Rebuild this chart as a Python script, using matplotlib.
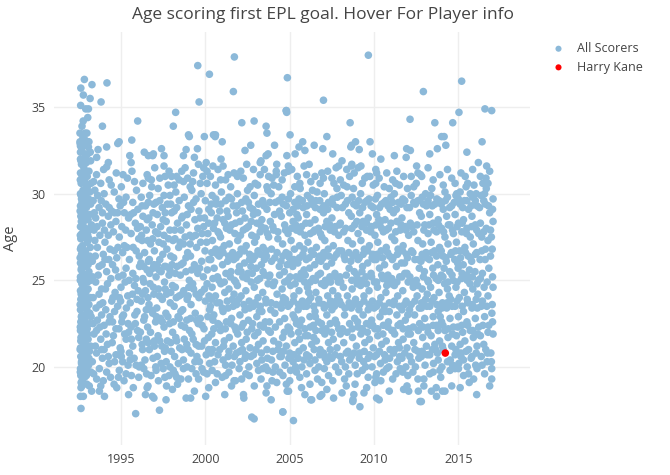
import matplotlib
matplotlib.use('Agg')
import matplotlib.pyplot as plt

plt.rcParams['font.family'] = ['Open Sans', 'DejaVu Sans']

# (date of first goal as decimal year, age at that goal)

# first weekends of 1992/93 - everyone is scoring their "first" goal
opening_1992 = [
    (1992.62,36.1),(1992.77,35.7),(1992.83,36.6),(1993.17,35.5),(1992.61,35.1),(1992.91,34.9),(1993.07,34.9),
    (1993.03,34.4),(1992.69,33.9),(1992.57,33.5),(1992.87,33.5),(1992.57,33.0),(1992.87,33.1),(1992.60,32.75),
    (1993.07,32.7),(1992.60,32.4),(1992.87,32.3),(1993.02,32.3),(1992.60,32.0),(1992.66,31.7),(1992.80,31.5),
    (1992.95,31.8),(1993.10,31.3),(1992.60,31.2),(1992.70,30.9),(1992.64,30.6),(1992.85,30.7),(1993.00,30.4),
    (1992.75,30.2),(1992.60,30.0),(1992.90,29.9),(1993.15,30.1),(1992.66,29.7),(1992.80,29.5),(1992.60,29.3),
    (1992.95,29.2),(1993.20,29.4),(1992.70,29.0),(1992.62,28.7),(1992.85,28.8),(1993.05,28.5),(1992.75,28.3),
    (1992.60,28.1),(1992.90,28.0),(1993.12,27.9),(1992.68,27.7),(1992.62,27.4),(1992.82,27.5),(1993.00,27.2),
    (1992.72,27.0),(1992.60,26.8),(1992.90,26.7),(1993.18,26.9),(1992.66,26.5),(1992.78,26.2),(1992.60,26.0),
    (1993.02,26.1),(1992.88,25.8),(1992.64,25.6),(1992.74,25.4),(1993.10,25.5),(1992.60,25.2),(1992.90,25.0),
    (1992.68,24.8),(1992.80,24.6),(1992.60,24.4),(1993.05,24.5),(1992.72,24.1),(1992.62,23.9),(1992.95,23.8),
    (1993.20,24.0),(1992.80,23.5),(1992.60,23.3),(1992.70,23.0),(1993.00,23.2),(1992.88,22.8),(1992.62,22.6),
    (1992.76,22.4),(1993.15,22.5),(1992.60,22.1),(1992.90,22.0),(1992.70,21.8),(1992.62,21.5),(1993.05,21.6),
    (1992.82,21.3),(1992.60,21.1),(1992.72,20.9),(1992.95,20.8),(1992.62,20.6),(1992.85,20.4),(1993.10,20.5),
    (1992.66,20.2),(1992.60,19.9),(1992.78,19.8),(1992.62,19.5),(1992.90,19.6),(1992.70,19.2),(1992.63,18.8),
    (1992.60,18.3),(1992.77,18.3),(1992.63,17.6),(1993.26,18.6),(1992.98,19.0),
    (1992.58,32.9),(1992.63,31.9),(1992.59,30.8),(1992.64,29.9),(1992.58,29.0),(1992.65,28.4),(1992.59,27.6),
    (1992.63,26.9),(1992.58,26.3),(1992.66,25.7),(1992.59,25.0),(1992.64,24.2),(1992.58,23.6),(1992.65,22.9),
    (1992.59,22.3),(1992.63,21.7),(1992.58,21.0),(1992.66,20.3),(1992.59,19.7),(1992.64,19.1),
    (1992.82,32.8),(1992.86,31.2),(1992.80,30.0),(1992.84,28.9),(1992.79,27.8),(1992.86,26.6),(1992.80,25.2),
    (1992.85,24.0),(1992.79,22.9),(1992.86,21.9),(1992.80,20.6),(1992.84,19.4),
    (1993.10,33.0),(1993.20,31.9),(1993.00,31.0),(1993.22,30.6),(1993.08,29.7),(1993.25,28.2),(1993.10,27.4),
    (1993.22,26.3),(1993.05,25.9),(1993.20,25.0),(1993.10,23.6),(1993.23,22.9),(1993.00,22.2),(1993.20,21.2),
    (1993.08,20.1),(1993.22,19.7),
    (1992.68,32.6),(1992.74,33.2),(1992.92,32.0),(1992.71,31.0),(1992.93,30.3),(1992.69,29.5),(1992.97,29.6),
    (1992.74,28.6),(1992.95,27.8),(1992.70,26.4),(1992.96,26.3),(1992.72,25.9),(1992.95,25.3),(1992.70,24.5),
    (1992.92,24.3),(1992.74,23.7),(1992.97,23.4),(1992.68,22.7),(1992.93,22.5),(1992.74,21.6),(1992.96,21.2),
    (1992.70,20.5),(1992.93,20.2),(1992.72,19.9),(1992.95,19.5),(1992.68,18.9),(1993.12,18.9),(1993.00,19.8),
    (1993.15,28.8),(1993.03,27.6),(1993.14,26.4),(1993.02,24.9),(1993.15,23.1),(1993.02,21.9),(1993.13,20.9),
    (1993.18,32.4),(1992.98,33.5),(1992.76,34.2),
]

scorers_1993_1996 = [
    (1993.28,36.3),(1994.17,36.4),(1993.82,35.3),(1995.99,34.2),(1993.90,33.9),(1995.64,33.1),(1994.81,32.9),
    (1994.89,33.0),(1993.64,32.55),(1994.15,32.7),(1993.56,32.1),(1995.60,31.8),(1994.25,31.8),(1994.15,31.55),
    (1993.55,31.1),(1993.80,30.6),(1993.45,30.2),(1994.00,30.0),(1994.60,30.1),(1994.88,29.7),(1995.12,31.1),
    (1995.65,31.3),(1995.80,30.7),(1995.92,30.2),(1994.30,30.8),(1993.35,29.6),(1993.70,29.2),(1994.10,29.4),
    (1994.45,29.0),(1994.95,29.3),(1995.30,29.8),(1995.70,29.5),(1996.00,29.1),(1993.50,28.6),(1993.90,28.3),
    (1994.25,28.7),(1994.70,28.4),(1995.05,28.1),(1995.45,28.6),(1995.85,28.3),(1993.40,27.9),(1993.75,27.6),
    (1994.05,27.2),(1994.55,27.8),(1994.90,27.5),(1995.20,27.0),(1995.60,27.7),(1996.05,27.4),(1993.60,26.9),
    (1993.95,26.5),(1994.35,26.8),(1994.75,26.3),(1995.10,26.6),(1995.50,26.2),(1995.90,26.7),(1993.30,26.1),
    (1993.70,25.8),(1994.15,25.5),(1994.50,25.9),(1994.85,25.2),(1995.30,25.7),(1995.70,25.4),(1996.10,25.8),
    (1993.50,24.9),(1993.85,24.5),(1994.20,24.8),(1994.65,24.3),(1995.00,24.6),(1995.40,24.1),(1995.80,24.7),
    (1993.35,24.0),(1993.75,23.6),(1994.10,23.3),(1994.45,23.8),(1994.80,23.5),(1995.15,23.0),(1995.55,23.7),
    (1995.95,23.2),(1993.60,22.7),(1994.00,22.4),(1994.35,22.9),(1994.70,22.2),(1995.05,22.6),(1995.45,22.0),
    (1995.85,22.5),(1993.40,21.9),(1993.80,21.6),(1994.20,21.3),(1994.55,21.8),(1994.95,21.1),(1995.30,21.6),
    (1995.70,21.2),(1996.05,21.7),(1993.55,20.8),(1993.90,20.5),(1994.30,20.2),(1994.70,20.7),(1995.10,20.3),
    (1995.50,20.8),(1995.54,20.4),(1995.90,20.1),(1993.30,20.3),(1993.72,19.9),(1994.15,19.7),(1994.59,19.0),
    (1994.85,19.4),(1993.56,19.3),(1993.72,18.6),(1995.73,18.8),(1996.05,19.4),(1995.87,17.3),(1994.90,19.8),
    (1995.30,19.6),(1993.95,19.2),
    (1993.45,27.3),(1993.65,25.3),(1993.85,23.0),(1994.00,21.0),(1994.40,25.1),(1994.60,26.7),(1994.90,24.0),
    (1995.20,28.9),(1995.35,26.9),(1995.60,22.3),(1995.75,28.9),(1995.95,23.9),(1994.25,27.6),(1993.55,22.1),
    (1994.05,26.2),(1994.80,28.9),(1995.00,20.9),(1995.25,24.9),(1993.90,28.9),(1994.50,22.6),
    (1993.38,30.7),(1993.62,29.9),(1993.97,31.4),(1994.42,30.5),(1994.72,31.2),(1995.02,30.4),(1995.38,30.9),
    (1995.52,32.2),(1993.42,28.9),(1993.83,29.6),(1994.30,29.2),(1994.62,28.9),(1995.15,29.5),(1995.58,28.8),
    (1995.98,28.0),(1993.58,28.1),(1994.02,27.9),(1994.40,28.2),(1994.82,26.9),(1995.28,27.9),(1995.72,26.9),
    (1996.08,26.4),(1993.48,26.4),(1993.88,25.9),(1994.28,26.2),(1994.68,25.6),(1995.12,25.3),(1995.48,25.0),
    (1995.88,25.1),(1993.32,25.2),(1993.70,24.2),(1994.08,24.5),(1994.52,24.0),(1994.98,23.8),(1995.32,23.4),
    (1995.68,24.2),(1996.02,24.4),(1993.52,23.4),(1993.92,23.7),(1994.30,22.6),(1994.62,23.2),(1995.08,22.9),
    (1995.42,22.5),(1995.82,23.0),(1993.35,22.5),(1993.75,22.3),(1994.12,21.9),(1994.48,21.4),(1994.88,22.2),
    (1995.22,21.9),(1995.62,21.6),(1995.98,22.1),(1993.48,21.2),(1993.85,21.0),(1994.25,20.6),(1994.62,20.3),
    (1995.02,20.6),(1995.42,20.1),(1995.78,20.5),(1993.38,19.6),(1993.80,18.9),(1994.38,19.4),(1994.75,18.8),
    (1995.18,19.2),(1995.62,19.5),(1996.08,20.0),(1994.02,18.3),(1995.45,18.4),
]

scorers_1996_2000 = [
    (1999.55,37.4),(2000.24,36.9),(1999.63,35.3),(1998.24,34.7),(1999.00,33.4),(1999.05,33.3),(1999.94,33.3),
    (2000.48,33.4),(1998.86,32.55),(1999.53,32.6),(1996.62,32.2),(1996.88,32.2),(1996.92,32.3),(1997.55,32.2),
    (1997.55,31.6),(1998.70,32.2),(1999.59,31.7),(1999.90,31.5),(2000.10,31.3),(1996.62,30.9),(1996.82,30.4),
    (1997.61,31.0),(1998.00,31.0),(1998.60,31.3),(1998.70,30.7),(1999.10,30.4),(1997.08,29.5),(1997.55,29.9),
    (1997.90,29.9),
    (1997.28,17.5),(1997.67,18.1),(1996.86,18.3),(1996.95,18.2),(1998.86,18.2),(1999.13,18.2),(2000.02,18.3),
    (1996.60,18.9),(1996.55,18.8),(1997.70,18.9),(1997.60,19.4),(1998.30,19.4),(1998.35,19.0),(1999.00,19.3),
    (1999.60,19.3),(2000.20,18.8),(1999.90,19.7),(1997.08,19.8),(1996.52,19.6),(1998.10,19.8),(1998.70,19.9),
    (1999.80,19.9),
    (1996.20,29.8),(1996.45,29.3),(1996.30,28.7),(1996.15,28.1),(1996.50,27.9),(1996.25,27.3),(1996.40,26.6),
    (1996.18,26.0),(1996.55,25.6),(1996.30,25.1),(1996.45,24.4),(1996.20,23.8),(1996.50,23.3),(1996.35,22.7),
    (1996.15,22.0),(1996.50,21.6),(1996.28,21.0),(1996.42,20.4),(1996.20,20.1),(1996.55,28.5),(1996.35,24.9),
    (1996.58,22.3),
    (1996.70,29.9),(1996.95,29.4),(1996.65,28.6),(1996.85,28.2),(1997.05,27.8),(1996.75,27.1),(1996.98,26.7),
    (1996.68,26.2),(1996.90,25.7),(1997.08,25.2),(1996.72,24.8),(1996.95,24.2),(1996.66,23.6),(1996.88,23.1),
    (1997.05,22.6),(1996.75,22.0),(1996.98,21.5),(1996.68,21.0),(1996.90,20.5),(1997.06,20.0),(1996.80,30.8),
    (1996.70,25.4),
    (1997.20,30.3),(1997.45,29.2),(1997.15,28.8),(1997.35,28.1),(1997.55,27.6),(1997.25,27.2),(1997.48,26.5),
    (1997.15,25.9),(1997.38,25.5),(1997.58,24.9),(1997.22,24.5),(1997.45,23.9),(1997.12,23.4),(1997.35,22.8),
    (1997.55,22.3),(1997.20,21.8),(1997.42,21.2),(1997.15,20.6),(1997.38,20.2),(1997.58,20.9),(1997.30,26.2),
    (1997.50,28.5),
    (1997.75,29.4),(1998.00,28.9),(1997.68,28.4),(1997.90,27.9),(1998.08,27.3),(1997.72,26.8),(1997.95,26.4),
    (1997.65,25.8),(1997.85,25.3),(1998.05,24.7),(1997.70,24.2),(1997.92,23.7),(1997.66,23.1),(1997.88,22.5),
    (1998.06,22.0),(1997.75,21.5),(1997.98,20.9),(1997.68,20.3),(1997.90,20.0),(1998.02,25.9),(1997.80,30.5),
    (1998.25,30.1),(1998.45,29.6),(1998.15,29.0),(1998.35,28.3),(1998.55,27.9),(1998.20,27.4),(1998.42,26.9),
    (1998.12,26.3),(1998.32,25.8),(1998.52,25.3),(1998.22,24.6),(1998.45,24.1),(1998.15,23.5),(1998.38,22.9),
    (1998.58,22.4),(1998.25,21.7),(1998.48,21.1),(1998.18,20.6),(1998.40,20.2),(1998.30,31.0),(1998.55,23.2),
    (1998.75,29.8),(1999.00,29.3),(1998.65,28.7),(1998.88,28.2),(1999.08,27.6),(1998.70,27.1),(1998.95,26.6),
    (1998.68,26.0),(1998.85,25.5),(1999.05,25.0),(1998.72,24.4),(1998.92,23.9),(1998.66,23.3),(1998.90,22.7),
    (1999.06,22.1),(1998.75,21.6),(1998.98,21.0),(1998.70,20.4),(1998.92,20.0),(1999.02,24.6),(1998.80,31.5),
    (1999.20,30.2),(1999.45,29.7),(1999.15,29.1),(1999.38,28.5),(1999.55,28.0),(1999.22,27.5),(1999.48,26.9),
    (1999.12,26.4),(1999.35,25.9),(1999.55,25.4),(1999.25,24.8),(1999.45,24.2),(1999.15,23.6),(1999.40,23.1),
    (1999.58,22.5),(1999.20,21.9),(1999.45,21.3),(1999.15,20.8),(1999.38,20.3),(1999.30,31.2),(1999.50,20.6),
    (1999.75,30.0),(2000.00,29.6),(2000.20,29.1),(1999.68,28.6),(1999.90,28.1),(2000.15,27.7),(1999.72,27.2),
    (1999.98,26.7),(2000.22,26.2),(1999.66,25.7),(1999.88,25.2),(2000.10,24.8),(1999.75,24.3),(2000.00,23.8),
    (2000.25,23.3),(1999.70,22.8),(1999.92,22.2),(2000.18,21.7),(1999.78,21.2),(2000.05,20.7),(2000.25,20.2),
    (1999.65,20.3),(2000.10,30.6),(1999.85,31.0),
    (1996.30,30.6),(1996.55,31.1),(1997.00,31.5),(1997.30,30.9),(1997.85,31.3),(1998.15,30.5),(1998.45,30.8),
    (1998.95,30.9),(1999.25,30.7),(1999.70,30.6),(2000.05,31.8),(1996.38,32.4),(1997.40,32.6),(1998.10,33.9),
    (1999.35,32.1),(1996.25,29.3),(1996.62,29.5),(1996.90,28.9),(1997.30,29.6),(1997.62,28.9),(1997.95,29.4),
    (1998.30,29.2),(1998.60,28.6),(1998.92,28.8),(1999.30,29.5),(1999.62,29.0),(1999.95,28.6),(2000.20,28.3),
    (1996.22,27.6),(1996.58,27.3),(1996.88,27.4),(1997.20,27.7),(1997.50,27.1),(1997.82,27.4),(1998.18,27.9),
    (1998.50,27.2),(1998.80,27.5),(1999.10,27.1),(1999.42,27.6),(1999.80,27.7),(2000.08,27.2),(1996.35,25.8),
    (1996.62,26.1),(1996.95,25.9),(1997.25,25.6),(1997.58,25.8),(1997.90,25.6),(1998.22,25.4),(1998.55,25.9),
    (1998.85,26.3),(1999.18,25.6),(1999.48,25.7),(1999.78,26.1),(2000.12,25.6),(1996.28,24.2),(1996.60,24.0),
    (1996.92,24.6),(1997.28,24.1),(1997.62,24.5),(1997.95,24.3),(1998.28,24.0),(1998.62,24.2),(1998.98,24.1),
    (1999.30,24.5),(1999.62,24.0),(1999.95,24.5),(2000.22,24.1),(1996.40,22.9),(1996.75,23.3),(1997.10,22.9),
    (1997.45,22.6),(1997.78,22.9),(1998.10,22.6),(1998.45,22.8),(1998.78,22.3),(1999.12,22.8),(1999.48,22.7),
    (1999.80,22.4),(2000.15,22.9),(1996.25,21.3),(1996.62,21.4),(1996.98,21.2),(1997.30,21.5),(1997.62,21.1),
    (1997.95,21.4),(1998.30,21.5),(1998.62,21.0),(1998.90,21.3),(1999.28,21.6),(1999.60,21.2),(1999.95,21.5),
    (2000.20,21.0),(1996.35,19.9),(1996.78,19.5),(1997.22,19.2),(1997.50,19.9),(1997.85,19.5),(1998.20,19.6),
    (1998.55,19.3),(1999.20,19.9),(1999.45,19.6),(2000.10,19.6),(1996.45,18.4),(1998.05,18.7),(1999.35,18.6),
]

scorers_2000_2004 = [
    (2001.72,37.9),(2001.66,35.9),(2004.79,34.8),(2002.16,34.1),(2002.89,34.2),(2000.58,33.3),(2000.60,33.4),
    (2003.60,33.9),(2003.65,33.5),(2002.69,32.8),(2004.10,32.8),(2000.93,32.0),(2003.72,32.3),(2003.60,32.2),
    (2003.25,31.8),(2003.30,31.9),(2004.23,31.7),(2003.75,31.0),(2004.20,31.1),(2001.70,31.2),(2002.10,31.3),
    (2000.30,31.0),(2000.60,30.5),(2000.90,30.8),(2001.20,30.8),(2002.25,30.9),(2002.65,30.4),(2002.95,30.6),
    (2003.25,31.1),(2003.65,30.4),(2004.05,30.5),
    (2002.75,17.1),(2002.89,17.0),(2004.59,17.4),(2002.26,18.4),(2002.28,18.2),(2001.70,19.2),(2001.78,19.2),
    (2002.60,19.5),(2000.60,19.1),(2001.00,19.4),(2003.15,19.8),(2003.70,19.8),(2003.65,18.9),(2003.60,18.5),
    (2004.23,19.1),(2004.80,19.0),(2000.40,19.8),(2001.40,19.7),(2002.00,19.9),(2002.40,19.6),(2003.40,19.9),
    (2004.00,19.7),
    (2000.40,29.9),(2000.65,29.4),(2000.35,28.9),(2000.55,28.3),(2000.75,27.8),(2000.42,27.3),(2000.62,26.8),
    (2000.32,26.2),(2000.52,25.7),(2000.72,25.2),(2000.40,24.6),(2000.60,24.1),(2000.30,23.5),(2000.50,23.0),
    (2000.75,22.5),(2000.38,21.9),(2000.60,21.4),(2000.34,20.8),(2000.55,20.3),(2000.70,28.6),(2000.45,22.7),
    (2000.95,30.1),(2001.20,29.6),(2000.85,29.0),(2001.05,28.5),(2001.25,28.0),(2000.90,27.5),(2001.12,27.0),
    (2000.82,26.4),(2001.02,25.9),(2001.22,25.4),(2000.92,24.8),(2001.15,24.3),(2000.85,23.7),(2001.05,23.2),
    (2001.25,22.6),(2000.90,22.1),(2001.12,21.5),(2000.85,21.0),(2001.05,20.4),(2001.20,20.1),(2000.98,26.8),
    (2001.40,29.8),(2001.65,29.3),(2001.35,28.7),(2001.55,28.2),(2001.75,27.7),(2001.42,27.1),(2001.62,26.6),
    (2001.32,26.1),(2001.52,25.5),(2001.72,25.0),(2001.40,24.5),(2001.60,23.9),(2001.35,23.4),(2001.55,22.8),
    (2001.75,22.3),(2001.42,21.7),(2001.65,21.2),(2001.35,20.6),(2001.58,20.1),(2001.70,24.2),(2001.50,30.4),
    (2001.90,30.0),(2002.15,29.5),(2001.85,28.9),(2002.05,28.4),(2002.25,27.9),(2001.92,27.3),(2002.12,26.8),
    (2001.82,26.3),(2002.02,25.8),(2002.22,25.2),(2001.90,24.7),(2002.12,24.1),(2001.85,23.6),(2002.05,23.0),
    (2002.25,22.5),(2001.92,21.9),(2002.15,21.4),(2001.85,20.8),(2002.05,20.3),(2002.20,21.0),(2001.95,25.5),
    (2002.40,29.7),(2002.65,29.2),(2002.35,28.6),(2002.55,28.1),(2002.75,27.6),(2002.42,27.0),(2002.62,26.5),
    (2002.32,26.0),(2002.52,25.4),(2002.72,24.9),(2002.40,24.4),(2002.60,23.8),(2002.35,23.3),(2002.55,22.7),
    (2002.75,22.2),(2002.42,21.6),(2002.65,21.1),(2002.35,20.5),(2002.58,20.0),(2002.70,25.8),(2002.50,30.2),
    (2002.90,29.9),(2003.15,29.4),(2002.85,28.8),(2003.05,28.3),(2003.25,27.8),(2002.92,27.2),(2003.12,26.7),
    (2002.82,26.2),(2003.02,25.7),(2003.22,25.1),(2002.90,24.6),(2003.12,24.0),(2002.85,23.5),(2003.05,22.9),
    (2003.25,22.4),(2002.92,21.8),(2003.15,21.3),(2002.85,20.7),(2003.05,20.2),(2003.20,23.2),
    (2003.40,29.6),(2003.65,29.1),(2003.35,28.5),(2003.55,28.0),(2003.75,27.5),(2003.42,26.9),(2003.62,26.4),
    (2003.32,25.9),(2003.52,25.3),(2003.72,24.8),(2003.40,24.3),(2003.60,23.7),(2003.35,23.2),(2003.55,22.6),
    (2003.75,22.1),(2003.42,21.5),(2003.65,21.0),(2003.35,20.4),(2003.58,20.0),(2003.70,30.2),(2003.50,26.2),
    (2003.90,30.0),(2004.15,29.5),(2004.40,29.0),(2003.85,28.4),(2004.05,27.9),(2004.30,27.4),(2003.92,26.8),
    (2004.12,26.3),(2004.38,25.8),(2003.82,25.3),(2004.02,24.7),(2004.25,24.2),(2003.90,23.7),(2004.12,23.1),
    (2004.40,22.6),(2003.85,22.0),(2004.05,21.5),(2004.30,21.0),(2003.92,20.4),(2004.15,20.0),(2004.42,20.6),
    (2004.20,31.3),
    (2000.45,31.6),(2000.75,31.4),(2001.05,31.6),(2001.35,31.1),(2001.90,31.0),(2002.45,31.7),(2002.85,31.4),
    (2003.10,30.5),(2003.50,31.4),(2003.95,30.9),(2004.35,30.4),(2001.00,33.0),(2002.35,32.5),(2000.35,29.4),
    (2000.62,29.7),(2000.92,29.4),(2001.28,29.0),(2001.55,29.7),(2001.88,29.3),(2002.20,29.0),(2002.55,29.5),
    (2002.82,29.1),(2003.10,28.9),(2003.48,29.3),(2003.82,29.5),(2004.10,28.8),(2004.35,29.6),(2000.48,28.0),
    (2000.82,27.7),(2001.15,28.3),(2001.45,27.9),(2001.78,28.3),(2002.08,27.6),(2002.42,28.0),(2002.72,28.4),
    (2003.02,27.5),(2003.32,28.1),(2003.68,27.7),(2004.00,28.1),(2004.30,27.8),(2000.38,26.6),(2000.72,26.5),
    (2001.05,26.6),(2001.38,26.4),(2001.68,26.2),(2002.00,26.5),(2002.30,26.7),(2002.62,26.2),(2002.95,26.4),
    (2003.28,26.5),(2003.60,26.7),(2003.92,26.1),(2004.25,26.6),(2000.45,25.1),(2000.80,25.0),(2001.12,24.9),
    (2001.48,25.2),(2001.80,24.9),(2002.12,25.5),(2002.45,25.1),(2002.78,25.4),(2003.08,25.0),(2003.42,25.5),
    (2003.78,25.2),(2004.10,24.9),(2004.40,25.3),(2000.35,23.9),(2000.68,23.7),(2001.00,23.4),(2001.30,23.8),
    (2001.65,23.5),(2001.98,23.9),(2002.28,23.6),(2002.62,23.4),(2002.95,23.7),(2003.25,23.5),(2003.58,23.9),
    (2003.88,23.3),(2004.20,23.6),(2000.50,22.2),(2000.85,22.4),(2001.18,22.2),(2001.50,22.5),(2001.82,22.1),
    (2002.15,22.3),(2002.48,22.0),(2002.80,22.5),(2003.12,22.0),(2003.45,22.3),(2003.80,22.6),(2004.15,22.3),
    (2000.42,21.0),(2000.75,20.7),(2001.08,21.2),(2001.40,20.9),(2001.72,20.6),(2002.05,20.9),(2002.38,20.7),
    (2002.70,20.6),(2003.00,21.0),(2003.32,20.8),(2003.68,20.5),(2004.00,20.9),(2004.35,21.3),(2000.70,19.6),
    (2001.20,19.5),(2001.55,18.9),(2002.15,19.3),(2002.90,18.9),(2003.30,19.3),(2003.95,19.2),(2004.40,19.7),
    (2001.15,18.4),(2003.90,18.1),
]

scorers_2004_2008 = [
    (2004.86,36.7),(2007.00,35.4),(2004.80,34.8),(2004.82,34.7),(2008.58,34.1),(2005.02,33.4),(2005.77,33.0),
    (2005.90,32.5),(2006.96,32.6),(2008.62,32.7),(2004.83,32.2),(2005.32,32.3),(2007.55,32.3),(2008.10,31.9),
    (2007.90,31.6),(2007.75,31.5),(2008.68,31.7),(2004.92,31.6),(2004.92,31.3),(2006.00,31.1),(2006.25,30.7),
    (2006.90,31.2),(2006.80,30.6),(2007.00,30.9),(2008.55,31.0),(2008.20,30.5),(2007.80,30.3),(2005.30,30.4),
    (2004.55,30.8),(2005.60,30.6),
    (2005.22,16.9),(2004.59,17.4),(2006.25,18.1),(2006.30,18.1),(2006.80,18.3),(2006.90,18.4),(2007.60,18.2),
    (2008.10,18.5),(2008.74,18.0),(2004.85,18.6),(2004.93,18.6),(2005.70,18.8),(2005.00,19.2),(2006.90,19.1),
    (2006.20,19.0),(2007.30,19.5),(2008.50,19.6),(2005.40,19.7),(2006.50,19.8),(2007.90,19.7),(2004.60,19.5),
    (2004.55,29.8),(2004.80,29.3),(2004.50,28.7),(2004.70,28.2),(2004.90,27.7),(2004.58,27.1),(2004.78,26.6),
    (2004.48,26.1),(2004.68,25.5),(2004.88,25.0),(2004.55,24.5),(2004.75,23.9),(2004.50,23.4),(2004.70,22.8),
    (2004.90,22.3),(2004.58,21.7),(2004.80,21.2),(2004.50,20.6),(2004.72,20.1),(2004.85,25.9),(2004.62,24.0),
    (2005.05,30.0),(2005.30,29.5),(2005.00,28.9),(2005.20,28.4),(2005.40,27.9),(2005.08,27.3),(2005.28,26.8),
    (2004.98,26.3),(2005.18,25.8),(2005.38,25.2),(2005.05,24.7),(2005.25,24.1),(2005.00,23.6),(2005.20,23.0),
    (2005.40,22.5),(2005.08,21.9),(2005.30,21.4),(2005.00,20.8),(2005.20,20.3),(2005.35,20.0),(2005.12,26.0),
    (2005.42,28.8),
    (2005.55,29.7),(2005.80,29.2),(2005.50,28.6),(2005.70,28.1),(2005.90,27.6),(2005.58,27.0),(2005.78,26.5),
    (2005.48,26.0),(2005.68,25.4),(2005.88,24.9),(2005.55,24.4),(2005.75,23.8),(2005.50,23.3),(2005.70,22.7),
    (2005.90,22.2),(2005.58,21.6),(2005.80,21.1),(2005.50,20.5),(2005.72,20.0),(2005.62,30.3),(2005.85,25.6),
    (2005.52,22.0),
    (2006.05,29.9),(2006.30,29.4),(2006.00,28.8),(2006.20,28.3),(2006.40,27.8),(2006.08,27.2),(2006.28,26.7),
    (2005.98,26.2),(2006.18,25.7),(2006.38,25.1),(2006.05,24.6),(2006.25,24.0),(2006.00,23.5),(2006.20,22.9),
    (2006.40,22.4),(2006.08,21.8),(2006.30,21.3),(2006.00,20.7),(2006.20,20.2),(2006.35,30.2),(2006.12,24.3),
    (2006.42,21.7),
    (2006.55,29.6),(2006.80,29.1),(2006.50,28.5),(2006.70,28.0),(2006.90,27.5),(2006.58,26.9),(2006.78,26.4),
    (2006.48,25.9),(2006.68,25.3),(2006.88,24.8),(2006.55,24.3),(2006.75,23.7),(2006.50,23.2),(2006.70,22.6),
    (2006.90,22.1),(2006.58,21.5),(2006.80,21.0),(2006.50,20.4),(2006.72,20.0),(2006.62,30.1),(2006.85,26.1),
    (2006.52,22.9),
    (2007.05,30.0),(2007.30,29.5),(2007.00,28.9),(2007.20,28.4),(2007.40,27.9),(2007.08,27.3),(2007.28,26.8),
    (2006.98,26.3),(2007.18,25.8),(2007.38,25.2),(2007.05,24.7),(2007.25,24.1),(2007.00,23.6),(2007.20,23.0),
    (2007.40,22.5),(2007.08,21.9),(2007.30,21.4),(2007.00,20.8),(2007.20,20.3),(2007.35,20.6),(2007.12,25.0),
    (2007.42,23.8),
    (2007.55,29.7),(2007.80,29.2),(2007.50,28.6),(2007.70,28.1),(2007.90,27.6),(2007.58,27.0),(2007.78,26.5),
    (2007.48,26.0),(2007.68,25.4),(2007.88,24.9),(2007.55,24.4),(2007.75,23.8),(2007.50,23.3),(2007.70,22.7),
    (2007.90,22.2),(2007.58,21.6),(2007.80,21.1),(2007.50,20.5),(2007.72,20.0),(2007.62,30.6),(2007.85,24.1),
    (2008.05,29.9),(2008.30,29.4),(2008.50,28.9),(2008.00,28.3),(2008.20,27.8),(2008.45,27.3),(2008.08,26.7),
    (2008.28,26.2),(2008.52,25.7),(2007.98,25.2),(2008.18,24.6),(2008.42,24.1),(2008.05,23.6),(2008.25,23.0),
    (2008.55,22.5),(2008.00,21.9),(2008.20,21.4),(2008.45,20.9),(2008.08,20.3),(2008.30,20.0),(2008.55,20.4),
    (2008.40,30.4),
    (2004.68,31.2),(2005.12,31.4),(2005.45,31.0),(2005.85,31.6),(2006.15,31.7),(2006.50,31.0),(2007.25,31.3),
    (2007.50,30.9),(2008.00,30.8),(2008.38,31.4),(2005.55,32.7),(2006.45,32.8),(2007.20,33.3),(2004.62,29.4),
    (2004.92,29.7),(2005.20,29.1),(2005.48,29.3),(2005.75,29.6),(2006.02,29.3),(2006.25,29.7),(2006.52,29.2),
    (2006.78,29.6),(2007.02,29.3),(2007.25,29.1),(2007.55,29.4),(2007.82,29.8),(2008.12,29.2),(2008.42,29.6),
    (2004.75,27.9),(2005.10,28.0),(2005.35,28.2),(2005.62,27.8),(2005.95,28.3),(2006.22,27.7),(2006.48,27.9),
    (2006.82,27.7),(2007.10,28.1),(2007.38,28.2),(2007.65,27.8),(2007.95,28.2),(2008.32,28.0),(2004.60,26.4),
    (2004.95,26.5),(2005.25,26.2),(2005.58,26.3),(2005.85,26.8),(2006.15,26.3),(2006.42,26.5),(2006.72,26.2),
    (2007.02,26.6),(2007.32,26.4),(2007.62,26.3),(2007.92,26.7),(2008.22,26.4),(2008.50,26.6),(2004.70,24.9),
    (2005.02,25.2),(2005.32,24.8),(2005.62,25.1),(2005.92,25.3),(2006.22,24.9),(2006.52,25.0),(2006.82,25.4),
    (2007.12,24.8),(2007.42,24.9),(2007.72,25.2),(2008.02,24.9),(2008.35,25.3),(2004.58,23.7),(2004.90,23.5),
    (2005.22,23.8),(2005.52,23.6),(2005.82,23.5),(2006.12,23.8),(2006.42,23.5),(2006.72,23.9),(2007.05,23.4),
    (2007.35,23.6),(2007.65,23.5),(2007.95,23.8),(2008.28,23.4),(2008.52,23.7),(2004.68,22.0),(2005.00,22.2),
    (2005.30,22.8),(2005.60,22.4),(2005.92,21.8),(2006.22,22.3),(2006.55,22.1),(2006.88,22.5),(2007.15,22.2),
    (2007.48,22.0),(2007.78,22.5),(2008.12,22.2),(2008.40,22.0),(2004.62,20.9),(2004.95,20.5),(2005.25,20.7),
    (2005.55,20.9),(2005.85,20.4),(2006.15,20.6),(2006.45,21.0),(2006.78,20.7),(2007.10,20.5),(2007.40,21.0),
    (2007.68,20.7),(2008.00,20.6),(2008.35,20.8),(2005.05,19.8),(2005.60,19.4),(2006.00,19.6),(2006.65,19.3),
    (2007.05,19.9),(2007.55,19.2),(2008.25,19.3),(2005.90,18.4),(2007.20,18.7),(2008.35,18.9),
]

scorers_2008_2012 = [
    (2009.66,38.0),(2012.92,35.9),(2012.13,34.3),(2008.90,33.0),(2008.67,32.8),(2009.76,33.0),(2009.12,32.55),
    (2011.93,32.6),(2012.15,32.5),(2011.90,32.1),(2012.52,31.6),(2009.22,31.6),(2010.10,31.4),(2010.15,31.2),
    (2009.60,31.0),(2009.75,31.0),(2012.20,31.0),(2012.75,31.1),(2008.65,31.6),(2010.10,30.6),(2009.30,30.6),
    (2009.95,30.5),(2010.60,30.4),(2011.50,30.5),(2011.98,30.3),(2012.50,30.6),(2010.90,30.3),
    (2009.16,17.7),(2012.72,18.0),(2011.75,18.7),(2012.05,18.6),(2012.62,18.6),(2010.15,18.2),(2010.30,18.1),
    (2008.75,18.1),(2008.80,18.4),(2008.87,19.0),(2009.56,18.8),(2010.05,19.1),(2010.10,19.4),(2010.15,19.6),
    (2011.10,19.3),(2010.55,19.7),(2010.75,19.9),(2011.70,19.7),(2012.00,19.5),(2012.60,19.3),(2009.30,19.8),
    (2008.70,29.8),(2008.95,29.3),(2008.65,28.7),(2008.85,28.2),(2009.05,27.7),(2008.72,27.1),(2008.92,26.6),
    (2008.62,26.1),(2008.82,25.5),(2009.02,25.0),(2008.70,24.5),(2008.90,23.9),(2008.65,23.4),(2008.85,22.8),
    (2009.05,22.3),(2008.72,21.7),(2008.95,21.2),(2008.65,20.6),(2008.88,20.1),(2009.00,24.8),(2008.78,30.3),
    (2009.20,30.0),(2009.45,29.5),(2009.15,28.9),(2009.35,28.4),(2009.55,27.9),(2009.22,27.3),(2009.42,26.8),
    (2009.12,26.3),(2009.32,25.8),(2009.52,25.2),(2009.20,24.7),(2009.40,24.1),(2009.15,23.6),(2009.35,23.0),
    (2009.55,22.5),(2009.22,21.9),(2009.45,21.4),(2009.15,20.8),(2009.38,20.3),(2009.50,20.0),(2009.28,25.5),
    (2009.70,29.7),(2009.95,29.2),(2009.65,28.6),(2009.85,28.1),(2010.05,27.6),(2009.72,27.0),(2009.92,26.5),
    (2009.62,26.0),(2009.82,25.4),(2010.02,24.9),(2009.70,24.4),(2009.90,23.8),(2009.65,23.3),(2009.85,22.7),
    (2010.05,22.2),(2009.72,21.6),(2009.95,21.1),(2009.65,20.5),(2009.88,20.0),(2009.78,22.4),(2010.00,26.2),
    (2010.20,29.9),(2010.45,29.4),(2010.15,28.8),(2010.35,28.3),(2010.55,27.8),(2010.22,27.2),(2010.42,26.7),
    (2010.12,26.2),(2010.32,25.7),(2010.52,25.1),(2010.20,24.6),(2010.40,24.0),(2010.15,23.5),(2010.35,22.9),
    (2010.55,22.4),(2010.22,21.8),(2010.45,21.3),(2010.15,20.7),(2010.38,20.2),(2010.50,23.2),(2010.28,28.5),
    (2010.70,29.6),(2010.95,29.1),(2010.65,28.5),(2010.85,28.0),(2011.05,27.5),(2010.72,26.9),(2010.92,26.4),
    (2010.62,25.9),(2010.82,25.3),(2011.02,24.8),(2010.70,24.3),(2010.90,23.7),(2010.65,23.2),(2010.85,22.6),
    (2011.05,22.1),(2010.72,21.5),(2010.95,21.0),(2010.65,20.4),(2010.88,20.0),(2011.00,29.8),(2010.78,25.0),
    (2011.20,30.0),(2011.45,29.5),(2011.15,28.9),(2011.35,28.4),(2011.55,27.9),(2011.22,27.3),(2011.42,26.8),
    (2011.12,26.3),(2011.32,25.8),(2011.52,25.2),(2011.20,24.7),(2011.40,24.1),(2011.15,23.6),(2011.35,23.0),
    (2011.55,22.5),(2011.22,21.9),(2011.45,21.4),(2011.15,20.8),(2011.38,20.3),(2011.50,21.1),(2011.28,30.6),
    (2011.70,29.7),(2011.95,29.2),(2011.65,28.6),(2011.85,28.1),(2012.05,27.6),(2011.72,27.0),(2011.92,26.5),
    (2011.62,26.0),(2011.82,25.4),(2012.02,24.9),(2011.70,24.4),(2011.90,23.8),(2011.65,23.3),(2011.85,22.7),
    (2012.05,22.2),(2011.72,21.6),(2011.95,21.1),(2011.65,20.5),(2011.88,20.0),(2011.80,26.0),(2012.00,23.0),
    (2012.20,29.9),(2012.45,29.4),(2012.70,28.9),(2012.15,28.3),(2012.35,27.8),(2012.60,27.3),(2012.22,26.7),
    (2012.42,26.2),(2012.68,25.7),(2012.12,25.2),(2012.32,24.6),(2012.55,24.1),(2012.20,23.6),(2012.40,23.0),
    (2012.70,22.5),(2012.15,21.9),(2012.35,21.4),(2012.60,20.9),(2012.22,20.3),(2012.45,20.0),(2012.65,20.5),
    (2012.50,25.0),
    (2008.82,31.2),(2009.05,31.5),(2009.45,30.9),(2010.30,30.9),(2010.75,31.2),(2011.10,30.8),(2011.35,31.3),
    (2011.75,31.0),(2012.35,30.4),(2012.60,31.2),(2009.90,32.3),(2010.40,32.0),(2011.20,32.2),(2008.80,29.4),
    (2009.08,29.6),(2009.32,29.2),(2009.58,29.6),(2009.82,29.3),(2010.08,29.7),(2010.32,29.2),(2010.60,29.5),
    (2010.82,29.3),(2011.10,29.5),(2011.32,29.1),(2011.60,29.4),(2011.82,29.6),(2012.10,29.2),(2012.35,29.5),
    (2012.60,29.6),(2008.68,28.0),(2008.98,28.4),(2009.28,28.1),(2009.55,28.3),(2009.80,27.8),(2010.12,28.2),
    (2010.45,28.0),(2010.72,27.9),(2011.00,28.3),(2011.28,27.8),(2011.60,28.2),(2011.90,27.9),(2012.25,28.1),
    (2012.55,28.2),(2008.75,26.4),(2009.05,26.2),(2009.35,26.5),(2009.62,26.7),(2009.88,26.3),(2010.18,26.5),
    (2010.50,26.3),(2010.80,26.6),(2011.08,26.2),(2011.38,26.5),(2011.68,26.7),(2011.98,26.3),(2012.30,26.6),
    (2012.62,26.2),(2008.68,25.0),(2008.98,25.3),(2009.25,25.0),(2009.55,24.8),(2009.85,25.2),(2010.15,24.9),
    (2010.45,25.3),(2010.75,24.7),(2011.05,25.1),(2011.35,24.9),(2011.65,25.2),(2011.95,25.4),(2012.25,24.9),
    (2012.58,24.7),(2008.80,23.6),(2009.10,23.3),(2009.40,23.8),(2009.70,23.6),(2010.00,23.4),(2010.30,23.7),
    (2010.60,23.5),(2010.90,23.2),(2011.20,23.8),(2011.50,23.5),(2011.80,23.6),(2012.10,23.3),(2012.42,23.8),
    (2012.68,23.4),(2008.70,22.2),(2009.02,22.6),(2009.30,22.2),(2009.60,22.0),(2009.92,22.4),(2010.22,22.2),
    (2010.52,21.9),(2010.82,22.3),(2011.12,22.1),(2011.42,22.4),(2011.72,22.2),(2012.02,21.9),(2012.32,22.3),
    (2012.62,22.1),(2008.82,20.8),(2009.12,20.5),(2009.42,20.9),(2009.72,20.7),(2010.02,20.6),(2010.32,20.9),
    (2010.62,20.7),(2010.92,20.5),(2011.22,21.0),(2011.52,20.6),(2011.82,20.8),(2012.12,20.6),(2012.42,21.0),
    (2009.00,19.6),(2009.65,19.4),(2010.40,19.2),(2011.30,19.6),(2011.55,19.9),(2012.30,19.7),(2009.40,18.5),
    (2010.90,18.6),(2011.95,18.9),
]

scorers_2012_2017 = [
    (2015.19,36.5),(2016.57,34.9),(2016.97,34.8),(2015.03,34.7),(2013.60,34.1),(2014.66,34.1),(2014.00,33.3),
    (2014.15,33.3),(2014.25,32.8),(2013.75,32.6),(2016.18,31.8),(2016.67,31.6),(2015.84,31.4),(2015.15,31.2),
    (2016.63,30.9),(2016.75,30.6),(2014.60,30.9),(2012.82,31.0),(2014.10,30.5),(2014.20,30.1),(2013.05,30.0),
    (2014.90,30.0),(2015.10,30.1),(2015.70,30.0),(2016.05,30.0),(2016.55,30.0),
    (2016.08,18.4),(2014.20,18.6),(2014.05,18.6),(2013.70,18.3),(2013.68,18.8),(2014.60,18.9),(2015.64,19.1),
    (2016.97,19.3),(2012.80,18.0),(2012.95,18.9),(2012.95,19.3),(2013.50,19.7),(2013.90,19.8),(2014.80,19.9),
    (2015.00,19.9),(2016.10,19.9),(2015.60,19.6),(2016.97,19.9),(2016.70,20.3),
    (2012.85,29.8),(2013.10,29.3),(2012.80,28.7),(2013.00,28.2),(2013.20,27.7),(2012.88,27.1),(2013.08,26.6),
    (2012.78,26.1),(2012.98,25.5),(2013.18,25.0),(2012.85,24.5),(2013.05,23.9),(2012.80,23.4),(2013.00,22.8),
    (2013.20,22.3),(2012.88,21.7),(2013.10,21.2),(2012.80,20.6),(2013.02,20.1),(2013.15,24.2),
    (2013.35,29.9),(2013.60,29.4),(2013.30,28.8),(2013.50,28.3),(2013.70,27.8),(2013.38,27.2),(2013.58,26.7),
    (2013.28,26.2),(2013.48,25.7),(2013.68,25.1),(2013.35,24.6),(2013.55,24.0),(2013.30,23.5),(2013.50,22.9),
    (2013.70,22.4),(2013.38,21.8),(2013.60,21.3),(2013.30,20.7),(2013.52,20.2),(2013.65,21.0),(2013.42,30.3),
    (2013.85,29.6),(2014.10,29.1),(2013.80,28.5),(2014.00,28.0),(2014.20,27.5),(2013.88,26.9),(2014.08,26.4),
    (2013.78,25.9),(2013.98,25.3),(2014.18,24.8),(2013.85,24.3),(2014.05,23.7),(2013.80,23.2),(2014.00,22.6),
    (2014.20,22.1),(2013.88,21.5),(2014.10,21.0),(2013.80,20.4),(2014.02,20.0),(2014.15,25.7),(2013.92,22.9),
    (2014.35,29.8),(2014.60,29.3),(2014.30,28.7),(2014.50,28.2),(2014.70,27.7),(2014.38,27.1),(2014.58,26.6),
    (2014.28,26.1),(2014.48,25.5),(2014.68,25.0),(2014.35,24.5),(2014.55,23.9),(2014.30,23.4),(2014.50,22.8),
    (2014.70,22.3),(2014.38,21.7),(2014.60,21.2),(2014.52,20.4),(2014.65,20.1),(2014.45,24.1),
    (2014.85,29.9),(2015.10,29.4),(2014.80,28.8),(2015.00,28.3),(2015.20,27.8),(2014.88,27.2),(2015.08,26.7),
    (2014.78,26.2),(2014.98,25.7),(2015.18,25.1),(2014.85,24.6),(2015.05,24.0),(2014.80,23.5),(2015.00,22.9),
    (2015.20,22.4),(2014.88,21.8),(2015.10,21.3),(2014.80,20.7),(2015.02,20.2),(2015.15,20.8),(2014.95,26.0),
    (2015.35,29.6),(2015.60,29.1),(2015.30,28.5),(2015.50,28.0),(2015.70,27.5),(2015.38,26.9),(2015.58,26.4),
    (2015.28,25.9),(2015.48,25.3),(2015.68,24.8),(2015.35,24.3),(2015.55,23.7),(2015.30,23.2),(2015.50,22.6),
    (2015.70,22.1),(2015.38,21.5),(2015.60,21.0),(2015.30,20.4),(2015.52,20.0),(2015.45,30.4),(2015.65,25.6),
    (2015.85,29.8),(2016.10,29.3),(2015.80,28.7),(2016.00,28.2),(2016.20,27.7),(2015.88,27.1),(2016.08,26.6),
    (2015.78,26.1),(2015.98,25.5),(2016.18,25.0),(2015.85,24.5),(2016.05,23.9),(2015.80,23.4),(2016.00,22.8),
    (2016.20,22.3),(2015.88,21.7),(2016.10,21.2),(2015.80,20.6),(2016.02,20.1),(2016.15,24.2),(2015.92,30.5),
    (2016.35,29.9),(2016.60,29.4),(2016.85,28.9),(2017.05,28.4),(2016.30,28.3),(2016.50,27.8),(2016.75,27.3),
    (2017.00,26.8),(2016.38,26.7),(2016.58,26.2),(2016.80,25.7),(2017.02,25.2),(2016.30,25.1),(2016.52,24.6),
    (2016.75,24.1),(2017.00,23.6),(2016.35,23.5),(2016.55,22.9),(2016.80,22.4),(2017.05,21.9),(2016.30,21.8),
    (2016.50,21.3),(2016.72,20.8),(2016.95,20.3),(2016.40,20.1),(2017.05,29.7),(2016.65,30.3),(2016.90,27.9),
    (2013.20,31.5),(2013.50,30.8),(2013.90,31.1),(2014.35,31.4),(2014.80,30.6),(2015.40,31.0),(2015.55,30.6),
    (2016.30,31.0),(2016.45,30.6),(2016.85,31.3),(2013.30,32.3),(2015.50,32.4),(2016.40,33.0),(2012.92,29.4),
    (2013.20,29.6),(2013.45,29.3),(2013.72,29.7),(2013.98,29.4),(2014.22,29.6),(2014.48,29.2),(2014.75,29.5),
    (2015.00,29.7),(2015.25,29.2),(2015.50,29.6),(2015.75,29.3),(2016.00,29.6),(2016.25,29.2),(2016.50,29.6),
    (2016.78,29.3),(2017.02,29.1),(2012.95,27.9),(2013.25,28.2),(2013.55,27.9),(2013.82,28.2),(2014.12,27.8),
    (2014.40,28.2),(2014.65,27.9),(2014.92,28.1),(2015.22,28.3),(2015.48,27.7),(2015.78,28.1),(2016.08,27.9),
    (2016.38,27.5),(2016.65,28.0),(2016.95,27.5),(2012.85,26.5),(2013.12,26.3),(2013.42,26.6),(2013.70,26.4),
    (2013.98,26.7),(2014.25,26.3),(2014.55,26.5),(2014.82,26.7),(2015.12,26.3),(2015.42,26.6),(2015.72,26.3),
    (2016.00,26.5),(2016.28,26.2),(2016.60,26.8),(2016.90,26.4),(2012.92,25.2),(2013.22,24.9),(2013.52,25.3),
    (2013.80,25.0),(2014.08,25.2),(2014.38,24.9),(2014.62,25.3),(2014.92,24.9),(2015.22,25.4),(2015.52,25.0),
    (2015.82,25.2),(2016.10,24.8),(2016.42,25.4),(2016.70,24.9),(2017.05,24.6),(2012.82,23.7),(2013.12,23.5),
    (2013.42,23.8),(2013.72,23.6),(2014.02,23.4),(2014.32,23.7),(2014.62,23.5),(2014.92,23.8),(2015.22,23.5),
    (2015.52,23.9),(2015.82,23.6),(2016.12,23.4),(2016.42,23.8),(2016.68,23.5),(2016.98,23.1),(2012.90,22.3),
    (2013.20,22.0),(2013.50,22.4),(2013.80,22.1),(2014.08,22.4),(2014.40,22.2),(2014.65,21.9),(2014.95,22.3),
    (2015.25,22.0),(2015.55,22.4),(2015.85,22.1),(2016.15,21.9),(2016.45,22.4),(2016.75,22.0),(2017.02,22.6),
    (2012.85,20.9),(2013.15,20.7),(2013.45,21.0),(2013.75,20.8),(2014.05,21.2),(2014.35,20.3),(2014.85,21.0),
    (2015.15,20.6),(2015.45,20.9),(2015.75,20.5),(2016.05,20.8),(2016.35,20.6),(2016.62,21.0),(2016.92,20.8),
    (2013.30,19.6),(2013.95,19.4),(2014.50,19.8),(2015.30,19.5),(2015.90,19.3),(2016.55,19.6),(2013.40,18.6),
    (2015.10,18.8),(2016.85,18.9),
]

kane_date = [2014.22]
kane_age = [20.8]

all_scorers = (opening_1992 + scorers_1993_1996 + scorers_1996_2000 + scorers_2000_2004
               + scorers_2004_2008 + scorers_2008_2012 + scorers_2012_2017)
dates = [p[0] for p in all_scorers]
ages = [p[1] for p in all_scorers]

fig = plt.figure(figsize=(6.7, 4.75), dpi=100)
ax = fig.add_axes([54/670, 30/475, 476/670, 413/475])

ax.scatter(dates, ages, s=30, color='#8cb9d9', edgecolors='none', label='All Scorers', zorder=2)
ax.scatter(kane_date, kane_age, s=30, color='#ff0000', edgecolors='none', label='Harry Kane', zorder=3)

ax.set_xlim(1991.03, 2019.24)
ax.set_ylim(15.49, 39.34)
ax.set_xticks([1995, 2000, 2005, 2010, 2015])
ax.set_yticks([20, 25, 30, 35])
ax.grid(True, color='#eeeeee', linewidth=1, zorder=0)
ax.set_axisbelow(True)
for sp in ax.spines.values():
    sp.set_visible(False)
ax.tick_params(length=0, labelsize=9, labelcolor='#444444', pad=6)
ax.set_ylabel('Age', fontsize=10.5, color='#444444', labelpad=10)

fig.text(323/670, 1 - 15/475, 'Age scoring first EPL goal. Hover For Player info',
         ha='center', va='center', fontsize=12.5, color='#444444')

fig.legend(loc='upper left', bbox_to_anchor=(541/670, 1 - 37/475), frameon=False,
           fontsize=9, labelcolor='#444444', handletextpad=0.5, labelspacing=0.45,
           markerscale=0.8, borderaxespad=0)

fig.savefig('out.png', dpi=100)
